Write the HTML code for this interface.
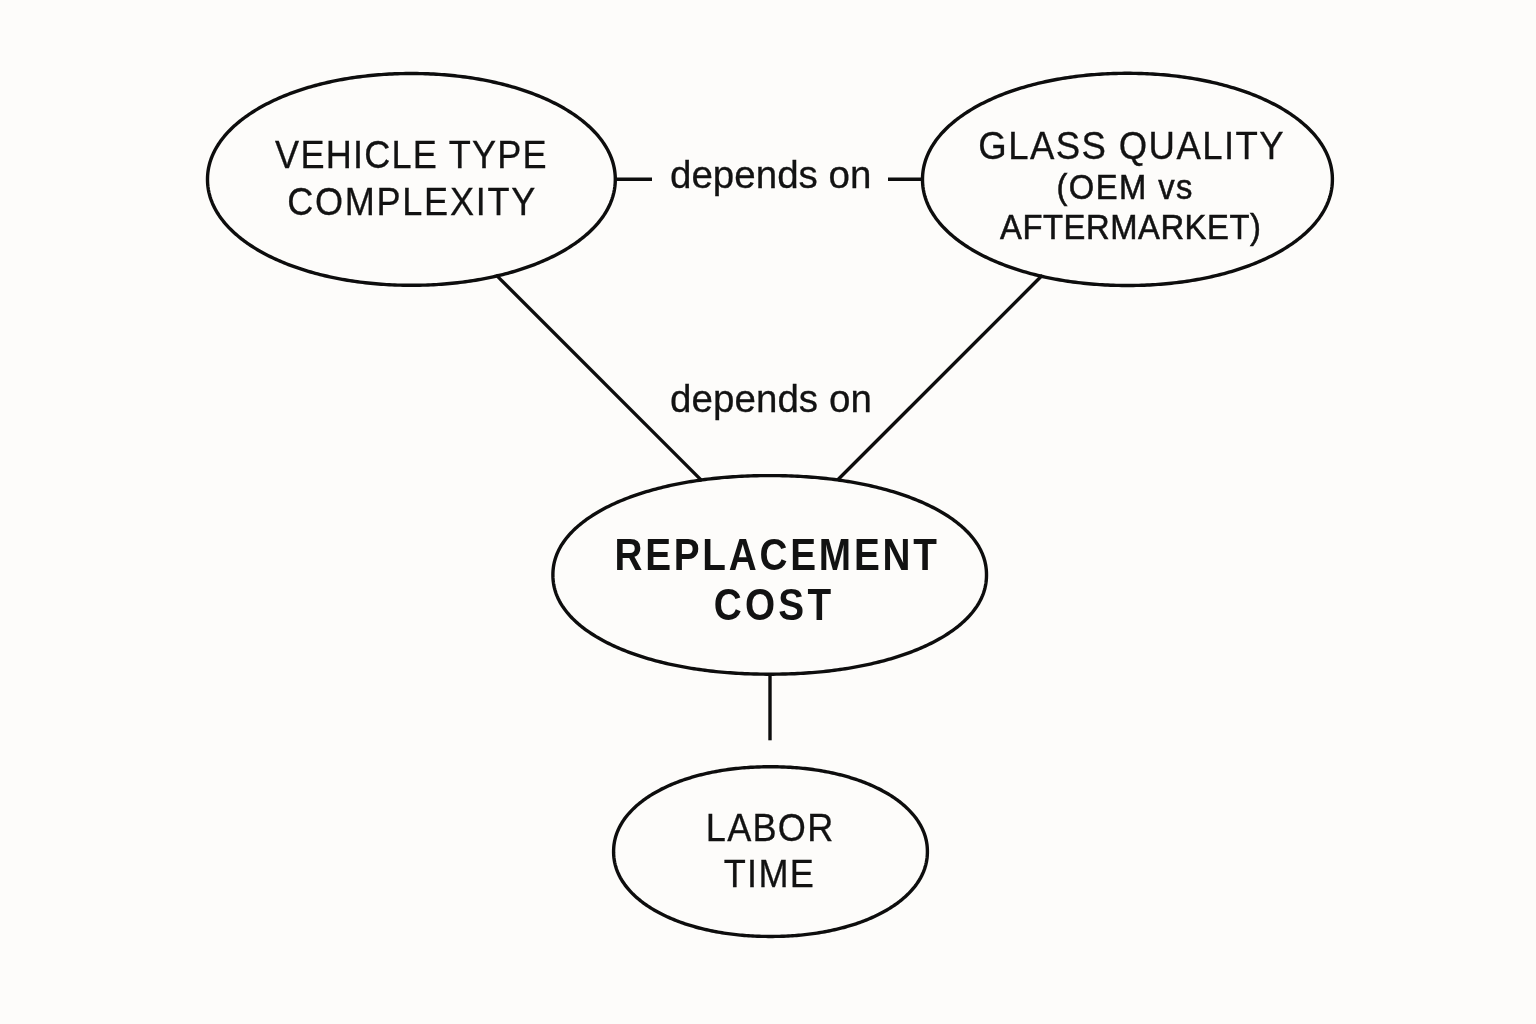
<!DOCTYPE html>
<html><head><meta charset="utf-8"><title>Replacement cost diagram</title><style>
html,body{margin:0;padding:0;background:#fdfcfa;width:1536px;height:1024px;overflow:hidden}
svg{display:block;will-change:transform}
text{font-family:"Liberation Sans",sans-serif;fill:#121212;stroke:#121212}
</style></head><body>
<svg width="1536" height="1024" viewBox="0 0 1536 1024">
<rect width="1536" height="1024" fill="#fdfcfa"/>
<g fill="none" stroke="#0d0d0d" stroke-width="3.4">
<path d="M615.30 179.40 L615.28 180.88 L615.23 182.34 L615.15 183.78 L615.02 185.21 L614.87 186.63 L614.68 188.05 L614.46 189.46 L614.20 190.87 L613.91 192.27 L613.58 193.67 L613.22 195.07 L612.83 196.46 L612.40 197.84 L611.94 199.22 L611.44 200.60 L610.91 201.97 L610.35 203.33 L609.75 204.69 L609.12 206.05 L608.46 207.40 L607.76 208.74 L607.03 210.08 L606.27 211.41 L605.47 212.74 L604.64 214.05 L603.78 215.37 L602.89 216.67 L601.96 217.97 L601.00 219.26 L600.01 220.54 L598.99 221.82 L597.94 223.09 L596.85 224.35 L595.73 225.60 L594.59 226.84 L593.41 228.08 L592.20 229.31 L590.96 230.52 L589.68 231.73 L588.38 232.93 L587.05 234.12 L585.69 235.30 L584.30 236.47 L582.88 237.63 L581.43 238.78 L579.95 239.92 L578.45 241.05 L576.91 242.17 L575.35 243.28 L573.76 244.37 L572.14 245.46 L570.49 246.53 L568.82 247.60 L567.12 248.65 L565.39 249.68 L563.64 250.71 L561.86 251.72 L560.05 252.73 L558.22 253.72 L556.37 254.69 L554.49 255.66 L552.58 256.61 L550.65 257.54 L548.70 258.47 L546.73 259.38 L544.73 260.28 L542.70 261.16 L540.66 262.03 L538.59 262.88 L536.50 263.72 L534.39 264.55 L532.26 265.36 L530.10 266.16 L527.93 266.94 L525.73 267.71 L523.52 268.46 L521.29 269.20 L519.03 269.92 L516.76 270.63 L514.47 271.32 L512.16 272.00 L509.83 272.66 L507.49 273.30 L505.13 273.93 L502.75 274.54 L500.35 275.14 L497.94 275.72 L495.52 276.28 L493.08 276.83 L490.62 277.36 L488.15 277.88 L485.66 278.37 L483.16 278.85 L480.65 279.32 L478.12 279.77 L475.58 280.20 L473.03 280.61 L470.47 281.01 L467.90 281.39 L465.31 281.75 L462.71 282.09 L460.10 282.42 L457.48 282.73 L454.85 283.02 L452.22 283.30 L449.57 283.55 L446.91 283.79 L444.24 284.02 L441.57 284.22 L438.88 284.41 L436.19 284.58 L433.48 284.73 L430.77 284.86 L428.05 284.98 L425.32 285.08 L422.58 285.16 L419.82 285.22 L417.05 285.26 L414.26 285.29 L411.40 285.30 L408.54 285.29 L405.75 285.26 L402.98 285.22 L400.22 285.16 L397.48 285.08 L394.75 284.98 L392.03 284.86 L389.32 284.73 L386.61 284.58 L383.92 284.41 L381.23 284.22 L378.56 284.02 L375.89 283.79 L373.23 283.55 L370.58 283.30 L367.95 283.02 L365.32 282.73 L362.70 282.42 L360.09 282.09 L357.49 281.75 L354.90 281.39 L352.33 281.01 L349.77 280.61 L347.22 280.20 L344.68 279.77 L342.15 279.32 L339.64 278.85 L337.14 278.37 L334.65 277.88 L332.18 277.36 L329.72 276.83 L327.28 276.28 L324.86 275.72 L322.45 275.14 L320.05 274.54 L317.67 273.93 L315.31 273.30 L312.97 272.66 L310.64 272.00 L308.33 271.32 L306.04 270.63 L303.77 269.92 L301.51 269.20 L299.28 268.46 L297.07 267.71 L294.87 266.94 L292.70 266.16 L290.54 265.36 L288.41 264.55 L286.30 263.72 L284.21 262.88 L282.14 262.03 L280.10 261.16 L278.07 260.28 L276.07 259.38 L274.10 258.47 L272.15 257.54 L270.22 256.61 L268.31 255.66 L266.43 254.69 L264.58 253.72 L262.75 252.73 L260.94 251.72 L259.16 250.71 L257.41 249.68 L255.68 248.65 L253.98 247.60 L252.31 246.53 L250.66 245.46 L249.04 244.37 L247.45 243.28 L245.89 242.17 L244.35 241.05 L242.85 239.92 L241.37 238.78 L239.92 237.63 L238.50 236.47 L237.11 235.30 L235.75 234.12 L234.42 232.93 L233.12 231.73 L231.84 230.52 L230.60 229.31 L229.39 228.08 L228.21 226.84 L227.07 225.60 L225.95 224.35 L224.86 223.09 L223.81 221.82 L222.79 220.54 L221.80 219.26 L220.84 217.97 L219.91 216.67 L219.02 215.37 L218.16 214.05 L217.33 212.74 L216.53 211.41 L215.77 210.08 L215.04 208.74 L214.34 207.40 L213.68 206.05 L213.05 204.69 L212.45 203.33 L211.89 201.97 L211.36 200.60 L210.86 199.22 L210.40 197.84 L209.97 196.46 L209.58 195.07 L209.22 193.67 L208.89 192.27 L208.60 190.87 L208.34 189.46 L208.12 188.05 L207.93 186.63 L207.78 185.21 L207.65 183.78 L207.57 182.34 L207.52 180.88 L207.50 179.40 L207.52 177.92 L207.57 176.46 L207.65 175.02 L207.78 173.59 L207.93 172.17 L208.12 170.75 L208.34 169.34 L208.60 167.93 L208.89 166.53 L209.22 165.13 L209.58 163.73 L209.97 162.34 L210.40 160.96 L210.86 159.58 L211.36 158.20 L211.89 156.83 L212.45 155.47 L213.05 154.11 L213.68 152.75 L214.34 151.40 L215.04 150.06 L215.77 148.72 L216.53 147.39 L217.33 146.06 L218.16 144.75 L219.02 143.43 L219.91 142.13 L220.84 140.83 L221.80 139.54 L222.79 138.26 L223.81 136.98 L224.86 135.71 L225.95 134.45 L227.07 133.20 L228.21 131.96 L229.39 130.72 L230.60 129.49 L231.84 128.28 L233.12 127.07 L234.42 125.87 L235.75 124.68 L237.11 123.50 L238.50 122.33 L239.92 121.17 L241.37 120.02 L242.85 118.88 L244.35 117.75 L245.89 116.63 L247.45 115.52 L249.04 114.43 L250.66 113.34 L252.31 112.27 L253.98 111.20 L255.68 110.15 L257.41 109.12 L259.16 108.09 L260.94 107.08 L262.75 106.07 L264.58 105.08 L266.43 104.11 L268.31 103.14 L270.22 102.19 L272.15 101.26 L274.10 100.33 L276.07 99.42 L278.07 98.52 L280.10 97.64 L282.14 96.77 L284.21 95.92 L286.30 95.08 L288.41 94.25 L290.54 93.44 L292.70 92.64 L294.87 91.86 L297.07 91.09 L299.28 90.34 L301.51 89.60 L303.77 88.88 L306.04 88.17 L308.33 87.48 L310.64 86.80 L312.97 86.14 L315.31 85.50 L317.67 84.87 L320.05 84.26 L322.45 83.66 L324.86 83.08 L327.28 82.52 L329.72 81.97 L332.18 81.44 L334.65 80.92 L337.14 80.43 L339.64 79.95 L342.15 79.48 L344.68 79.03 L347.22 78.60 L349.77 78.19 L352.33 77.79 L354.90 77.41 L357.49 77.05 L360.09 76.71 L362.70 76.38 L365.32 76.07 L367.95 75.78 L370.58 75.50 L373.23 75.25 L375.89 75.01 L378.56 74.78 L381.23 74.58 L383.92 74.39 L386.61 74.22 L389.32 74.07 L392.03 73.94 L394.75 73.82 L397.48 73.72 L400.22 73.64 L402.98 73.58 L405.75 73.54 L408.54 73.51 L411.40 73.50 L414.26 73.51 L417.05 73.54 L419.82 73.58 L422.58 73.64 L425.32 73.72 L428.05 73.82 L430.77 73.94 L433.48 74.07 L436.19 74.22 L438.88 74.39 L441.57 74.58 L444.24 74.78 L446.91 75.01 L449.57 75.25 L452.22 75.50 L454.85 75.78 L457.48 76.07 L460.10 76.38 L462.71 76.71 L465.31 77.05 L467.90 77.41 L470.47 77.79 L473.03 78.19 L475.58 78.60 L478.12 79.03 L480.65 79.48 L483.16 79.95 L485.66 80.43 L488.15 80.92 L490.62 81.44 L493.08 81.97 L495.52 82.52 L497.94 83.08 L500.35 83.66 L502.75 84.26 L505.13 84.87 L507.49 85.50 L509.83 86.14 L512.16 86.80 L514.47 87.48 L516.76 88.17 L519.03 88.88 L521.29 89.60 L523.52 90.34 L525.73 91.09 L527.93 91.86 L530.10 92.64 L532.26 93.44 L534.39 94.25 L536.50 95.08 L538.59 95.92 L540.66 96.77 L542.70 97.64 L544.73 98.52 L546.73 99.42 L548.70 100.33 L550.65 101.26 L552.58 102.19 L554.49 103.14 L556.37 104.11 L558.22 105.08 L560.05 106.07 L561.86 107.08 L563.64 108.09 L565.39 109.12 L567.12 110.15 L568.82 111.20 L570.49 112.27 L572.14 113.34 L573.76 114.43 L575.35 115.52 L576.91 116.63 L578.45 117.75 L579.95 118.88 L581.43 120.02 L582.88 121.17 L584.30 122.33 L585.69 123.50 L587.05 124.68 L588.38 125.87 L589.68 127.07 L590.96 128.28 L592.20 129.49 L593.41 130.72 L594.59 131.96 L595.73 133.20 L596.85 134.45 L597.94 135.71 L598.99 136.98 L600.01 138.26 L601.00 139.54 L601.96 140.83 L602.89 142.13 L603.78 143.43 L604.64 144.75 L605.47 146.06 L606.27 147.39 L607.03 148.72 L607.76 150.06 L608.46 151.40 L609.12 152.75 L609.75 154.11 L610.35 155.47 L610.91 156.83 L611.44 158.20 L611.94 159.58 L612.40 160.96 L612.83 162.34 L613.22 163.73 L613.58 165.13 L613.91 166.53 L614.20 167.93 L614.46 169.34 L614.68 170.75 L614.87 172.17 L615.02 173.59 L615.15 175.02 L615.23 176.46 L615.28 177.92Z"/>
<path d="M1332.40 179.40 L1332.38 180.91 L1332.33 182.38 L1332.25 183.84 L1332.12 185.28 L1331.97 186.72 L1331.78 188.15 L1331.56 189.57 L1331.30 190.99 L1331.01 192.41 L1330.68 193.81 L1330.32 195.22 L1329.93 196.61 L1329.50 198.00 L1329.03 199.39 L1328.54 200.77 L1328.01 202.15 L1327.44 203.52 L1326.85 204.89 L1326.22 206.24 L1325.55 207.60 L1324.85 208.95 L1324.12 210.29 L1323.36 211.62 L1322.56 212.95 L1321.73 214.27 L1320.87 215.59 L1319.97 216.89 L1319.05 218.20 L1318.09 219.49 L1317.09 220.77 L1316.07 222.05 L1315.01 223.32 L1313.93 224.58 L1312.81 225.84 L1311.66 227.08 L1310.48 228.32 L1309.26 229.55 L1308.02 230.77 L1306.75 231.98 L1305.44 233.18 L1304.11 234.37 L1302.75 235.55 L1301.35 236.72 L1299.93 237.88 L1298.48 239.03 L1297.00 240.17 L1295.49 241.30 L1293.95 242.42 L1292.38 243.52 L1290.79 244.62 L1289.17 245.71 L1287.52 246.78 L1285.84 247.84 L1284.13 248.89 L1282.40 249.93 L1280.65 250.96 L1278.86 251.97 L1277.05 252.97 L1275.22 253.96 L1273.36 254.94 L1271.47 255.90 L1269.57 256.85 L1267.63 257.78 L1265.67 258.71 L1263.69 259.62 L1261.69 260.51 L1259.66 261.40 L1257.61 262.26 L1255.53 263.12 L1253.44 263.96 L1251.32 264.78 L1249.18 265.59 L1247.02 266.39 L1244.84 267.17 L1242.63 267.94 L1240.41 268.69 L1238.17 269.43 L1235.91 270.15 L1233.63 270.85 L1231.33 271.54 L1229.01 272.22 L1226.67 272.88 L1224.32 273.52 L1221.95 274.15 L1219.56 274.76 L1217.15 275.36 L1214.73 275.94 L1212.29 276.50 L1209.84 277.05 L1207.37 277.58 L1204.89 278.09 L1202.39 278.59 L1199.88 279.07 L1197.35 279.53 L1194.81 279.98 L1192.26 280.41 L1189.69 280.82 L1187.11 281.21 L1184.52 281.59 L1181.92 281.95 L1179.31 282.30 L1176.68 282.63 L1174.04 282.93 L1171.39 283.23 L1168.74 283.50 L1166.07 283.76 L1163.39 284.00 L1160.70 284.22 L1158.00 284.42 L1155.29 284.61 L1152.57 284.78 L1149.84 284.93 L1147.10 285.06 L1144.35 285.18 L1141.59 285.28 L1138.82 285.36 L1136.02 285.42 L1133.21 285.46 L1130.37 285.49 L1127.45 285.50 L1124.53 285.49 L1121.69 285.46 L1118.88 285.42 L1116.08 285.36 L1113.31 285.28 L1110.55 285.18 L1107.80 285.06 L1105.06 284.93 L1102.33 284.78 L1099.61 284.61 L1096.90 284.42 L1094.20 284.22 L1091.51 284.00 L1088.83 283.76 L1086.16 283.50 L1083.51 283.23 L1080.86 282.93 L1078.22 282.63 L1075.59 282.30 L1072.98 281.95 L1070.38 281.59 L1067.79 281.21 L1065.21 280.82 L1062.64 280.41 L1060.09 279.98 L1057.55 279.53 L1055.02 279.07 L1052.51 278.59 L1050.01 278.09 L1047.53 277.58 L1045.06 277.05 L1042.61 276.50 L1040.17 275.94 L1037.75 275.36 L1035.34 274.76 L1032.95 274.15 L1030.58 273.52 L1028.23 272.88 L1025.89 272.22 L1023.57 271.54 L1021.27 270.85 L1018.99 270.15 L1016.73 269.43 L1014.49 268.69 L1012.27 267.94 L1010.06 267.17 L1007.88 266.39 L1005.72 265.59 L1003.58 264.78 L1001.46 263.96 L999.37 263.12 L997.29 262.26 L995.24 261.40 L993.21 260.51 L991.21 259.62 L989.23 258.71 L987.27 257.78 L985.33 256.85 L983.43 255.90 L981.54 254.94 L979.68 253.96 L977.85 252.97 L976.04 251.97 L974.25 250.96 L972.50 249.93 L970.77 248.89 L969.06 247.84 L967.38 246.78 L965.73 245.71 L964.11 244.62 L962.52 243.52 L960.95 242.42 L959.41 241.30 L957.90 240.17 L956.42 239.03 L954.97 237.88 L953.55 236.72 L952.15 235.55 L950.79 234.37 L949.46 233.18 L948.15 231.98 L946.88 230.77 L945.64 229.55 L944.42 228.32 L943.24 227.08 L942.09 225.84 L940.97 224.58 L939.89 223.32 L938.83 222.05 L937.81 220.77 L936.81 219.49 L935.85 218.20 L934.93 216.89 L934.03 215.59 L933.17 214.27 L932.34 212.95 L931.54 211.62 L930.78 210.29 L930.05 208.95 L929.35 207.60 L928.68 206.24 L928.05 204.89 L927.46 203.52 L926.89 202.15 L926.36 200.77 L925.87 199.39 L925.40 198.00 L924.97 196.61 L924.58 195.22 L924.22 193.81 L923.89 192.41 L923.60 190.99 L923.34 189.57 L923.12 188.15 L922.93 186.72 L922.78 185.28 L922.65 183.84 L922.57 182.38 L922.52 180.91 L922.50 179.40 L922.52 177.89 L922.57 176.42 L922.65 174.96 L922.78 173.52 L922.93 172.08 L923.12 170.65 L923.34 169.23 L923.60 167.81 L923.89 166.39 L924.22 164.99 L924.58 163.58 L924.97 162.19 L925.40 160.80 L925.87 159.41 L926.36 158.03 L926.89 156.65 L927.46 155.28 L928.05 153.91 L928.68 152.56 L929.35 151.20 L930.05 149.85 L930.78 148.51 L931.54 147.18 L932.34 145.85 L933.17 144.53 L934.03 143.21 L934.93 141.91 L935.85 140.60 L936.81 139.31 L937.81 138.03 L938.83 136.75 L939.89 135.48 L940.97 134.22 L942.09 132.96 L943.24 131.72 L944.42 130.48 L945.64 129.25 L946.88 128.03 L948.15 126.82 L949.46 125.62 L950.79 124.43 L952.15 123.25 L953.55 122.08 L954.97 120.92 L956.42 119.77 L957.90 118.63 L959.41 117.50 L960.95 116.38 L962.52 115.28 L964.11 114.18 L965.73 113.09 L967.38 112.02 L969.06 110.96 L970.77 109.91 L972.50 108.87 L974.25 107.84 L976.04 106.83 L977.85 105.83 L979.68 104.84 L981.54 103.86 L983.43 102.90 L985.33 101.95 L987.27 101.02 L989.23 100.09 L991.21 99.18 L993.21 98.29 L995.24 97.40 L997.29 96.54 L999.37 95.68 L1001.46 94.84 L1003.58 94.02 L1005.72 93.21 L1007.88 92.41 L1010.06 91.63 L1012.27 90.86 L1014.49 90.11 L1016.73 89.37 L1018.99 88.65 L1021.27 87.95 L1023.57 87.26 L1025.89 86.58 L1028.23 85.92 L1030.58 85.28 L1032.95 84.65 L1035.34 84.04 L1037.75 83.44 L1040.17 82.86 L1042.61 82.30 L1045.06 81.75 L1047.53 81.22 L1050.01 80.71 L1052.51 80.21 L1055.02 79.73 L1057.55 79.27 L1060.09 78.82 L1062.64 78.39 L1065.21 77.98 L1067.79 77.59 L1070.38 77.21 L1072.98 76.85 L1075.59 76.50 L1078.22 76.17 L1080.86 75.87 L1083.51 75.57 L1086.16 75.30 L1088.83 75.04 L1091.51 74.80 L1094.20 74.58 L1096.90 74.38 L1099.61 74.19 L1102.33 74.02 L1105.06 73.87 L1107.80 73.74 L1110.55 73.62 L1113.31 73.52 L1116.08 73.44 L1118.88 73.38 L1121.69 73.34 L1124.53 73.31 L1127.45 73.30 L1130.37 73.31 L1133.21 73.34 L1136.02 73.38 L1138.82 73.44 L1141.59 73.52 L1144.35 73.62 L1147.10 73.74 L1149.84 73.87 L1152.57 74.02 L1155.29 74.19 L1158.00 74.38 L1160.70 74.58 L1163.39 74.80 L1166.07 75.04 L1168.74 75.30 L1171.39 75.57 L1174.04 75.87 L1176.68 76.17 L1179.31 76.50 L1181.92 76.85 L1184.52 77.21 L1187.11 77.59 L1189.69 77.98 L1192.26 78.39 L1194.81 78.82 L1197.35 79.27 L1199.88 79.73 L1202.39 80.21 L1204.89 80.71 L1207.37 81.22 L1209.84 81.75 L1212.29 82.30 L1214.73 82.86 L1217.15 83.44 L1219.56 84.04 L1221.95 84.65 L1224.32 85.28 L1226.67 85.92 L1229.01 86.58 L1231.33 87.26 L1233.63 87.95 L1235.91 88.65 L1238.17 89.37 L1240.41 90.11 L1242.63 90.86 L1244.84 91.63 L1247.02 92.41 L1249.18 93.21 L1251.32 94.02 L1253.44 94.84 L1255.53 95.68 L1257.61 96.54 L1259.66 97.40 L1261.69 98.29 L1263.69 99.18 L1265.67 100.09 L1267.63 101.02 L1269.57 101.95 L1271.47 102.90 L1273.36 103.86 L1275.22 104.84 L1277.05 105.83 L1278.86 106.83 L1280.65 107.84 L1282.40 108.87 L1284.13 109.91 L1285.84 110.96 L1287.52 112.02 L1289.17 113.09 L1290.79 114.18 L1292.38 115.28 L1293.95 116.38 L1295.49 117.50 L1297.00 118.63 L1298.48 119.77 L1299.93 120.92 L1301.35 122.08 L1302.75 123.25 L1304.11 124.43 L1305.44 125.62 L1306.75 126.82 L1308.02 128.03 L1309.26 129.25 L1310.48 130.48 L1311.66 131.72 L1312.81 132.96 L1313.93 134.22 L1315.01 135.48 L1316.07 136.75 L1317.09 138.03 L1318.09 139.31 L1319.05 140.60 L1319.97 141.91 L1320.87 143.21 L1321.73 144.53 L1322.56 145.85 L1323.36 147.18 L1324.12 148.51 L1324.85 149.85 L1325.55 151.20 L1326.22 152.56 L1326.85 153.91 L1327.44 155.28 L1328.01 156.65 L1328.54 158.03 L1329.03 159.41 L1329.50 160.80 L1329.93 162.19 L1330.32 163.58 L1330.68 164.99 L1331.01 166.39 L1331.30 167.81 L1331.56 169.23 L1331.78 170.65 L1331.97 172.08 L1332.12 173.52 L1332.25 174.96 L1332.33 176.42 L1332.38 177.89Z"/>
<path d="M986.50 574.90 L986.48 576.45 L986.43 577.92 L986.34 579.35 L986.21 580.76 L986.05 582.16 L985.86 583.54 L985.63 584.92 L985.36 586.28 L985.06 587.64 L984.72 588.98 L984.35 590.32 L983.94 591.65 L983.50 592.98 L983.02 594.30 L982.50 595.61 L981.95 596.91 L981.37 598.21 L980.75 599.50 L980.10 600.78 L979.41 602.06 L978.69 603.33 L977.93 604.59 L977.14 605.84 L976.31 607.09 L975.45 608.33 L974.56 609.56 L973.63 610.79 L972.67 612.01 L971.67 613.22 L970.64 614.42 L969.58 615.61 L968.49 616.80 L967.36 617.98 L966.20 619.14 L965.01 620.30 L963.78 621.46 L962.52 622.60 L961.23 623.73 L959.91 624.86 L958.56 625.97 L957.17 627.08 L955.76 628.18 L954.31 629.26 L952.83 630.34 L951.32 631.41 L949.79 632.46 L948.22 633.51 L946.62 634.55 L944.99 635.57 L943.33 636.59 L941.64 637.59 L939.93 638.58 L938.18 639.56 L936.41 640.54 L934.61 641.49 L932.78 642.44 L930.92 643.38 L929.03 644.30 L927.12 645.21 L925.18 646.11 L923.22 647.00 L921.22 647.88 L919.21 648.74 L917.16 649.59 L915.09 650.43 L913.00 651.26 L910.88 652.07 L908.74 652.87 L906.57 653.65 L904.38 654.43 L902.16 655.19 L899.92 655.93 L897.66 656.66 L895.38 657.38 L893.07 658.09 L890.74 658.78 L888.39 659.46 L886.02 660.12 L883.62 660.77 L881.21 661.40 L878.77 662.02 L876.32 662.63 L873.84 663.22 L871.35 663.79 L868.83 664.36 L866.30 664.90 L863.75 665.43 L861.17 665.95 L858.59 666.45 L855.98 666.94 L853.35 667.41 L850.71 667.86 L848.06 668.31 L845.38 668.73 L842.69 669.14 L839.98 669.53 L837.26 669.91 L834.52 670.27 L831.76 670.62 L828.99 670.95 L826.20 671.27 L823.40 671.57 L820.59 671.85 L817.76 672.12 L814.91 672.37 L812.05 672.60 L809.17 672.82 L806.28 673.03 L803.37 673.21 L800.45 673.38 L797.51 673.54 L794.55 673.68 L791.57 673.80 L788.57 673.91 L785.55 674.00 L782.50 674.07 L779.41 674.13 L776.28 674.17 L773.09 674.19 L769.70 674.20 L766.31 674.19 L763.12 674.17 L759.99 674.13 L756.90 674.07 L753.85 674.00 L750.83 673.91 L747.83 673.80 L744.85 673.68 L741.89 673.54 L738.95 673.38 L736.03 673.21 L733.12 673.03 L730.23 672.82 L727.35 672.60 L724.49 672.37 L721.64 672.12 L718.81 671.85 L716.00 671.57 L713.20 671.27 L710.41 670.95 L707.64 670.62 L704.88 670.27 L702.14 669.91 L699.42 669.53 L696.71 669.14 L694.02 668.73 L691.34 668.31 L688.69 667.86 L686.05 667.41 L683.42 666.94 L680.81 666.45 L678.23 665.95 L675.65 665.43 L673.10 664.90 L670.57 664.36 L668.05 663.79 L665.56 663.22 L663.08 662.63 L660.63 662.02 L658.19 661.40 L655.78 660.77 L653.38 660.12 L651.01 659.46 L648.66 658.78 L646.33 658.09 L644.02 657.38 L641.74 656.66 L639.48 655.93 L637.24 655.19 L635.02 654.43 L632.83 653.65 L630.66 652.87 L628.52 652.07 L626.40 651.26 L624.31 650.43 L622.24 649.59 L620.19 648.74 L618.18 647.88 L616.18 647.00 L614.22 646.11 L612.28 645.21 L610.37 644.30 L608.48 643.38 L606.62 642.44 L604.79 641.49 L602.99 640.54 L601.22 639.56 L599.47 638.58 L597.76 637.59 L596.07 636.59 L594.41 635.57 L592.78 634.55 L591.18 633.51 L589.61 632.46 L588.08 631.41 L586.57 630.34 L585.09 629.26 L583.64 628.18 L582.23 627.08 L580.84 625.97 L579.49 624.86 L578.17 623.73 L576.88 622.60 L575.62 621.46 L574.39 620.30 L573.20 619.14 L572.04 617.98 L570.91 616.80 L569.82 615.61 L568.76 614.42 L567.73 613.22 L566.73 612.01 L565.77 610.79 L564.84 609.56 L563.95 608.33 L563.09 607.09 L562.26 605.84 L561.47 604.59 L560.71 603.33 L559.99 602.06 L559.30 600.78 L558.65 599.50 L558.03 598.21 L557.45 596.91 L556.90 595.61 L556.38 594.30 L555.90 592.98 L555.46 591.65 L555.05 590.32 L554.68 588.98 L554.34 587.64 L554.04 586.28 L553.77 584.92 L553.54 583.54 L553.35 582.16 L553.19 580.76 L553.06 579.35 L552.97 577.92 L552.92 576.45 L552.90 574.90 L552.92 573.35 L552.97 571.88 L553.06 570.45 L553.19 569.04 L553.35 567.64 L553.54 566.26 L553.77 564.88 L554.04 563.52 L554.34 562.16 L554.68 560.82 L555.05 559.48 L555.46 558.15 L555.90 556.82 L556.38 555.50 L556.90 554.19 L557.45 552.89 L558.03 551.59 L558.65 550.30 L559.30 549.02 L559.99 547.74 L560.71 546.47 L561.47 545.21 L562.26 543.96 L563.09 542.71 L563.95 541.47 L564.84 540.24 L565.77 539.01 L566.73 537.79 L567.73 536.58 L568.76 535.38 L569.82 534.19 L570.91 533.00 L572.04 531.82 L573.20 530.66 L574.39 529.50 L575.62 528.34 L576.88 527.20 L578.17 526.07 L579.49 524.94 L580.84 523.83 L582.23 522.72 L583.64 521.62 L585.09 520.54 L586.57 519.46 L588.08 518.39 L589.61 517.34 L591.18 516.29 L592.78 515.25 L594.41 514.23 L596.07 513.21 L597.76 512.21 L599.47 511.22 L601.22 510.24 L602.99 509.26 L604.79 508.31 L606.62 507.36 L608.48 506.42 L610.37 505.50 L612.28 504.59 L614.22 503.69 L616.18 502.80 L618.18 501.92 L620.19 501.06 L622.24 500.21 L624.31 499.37 L626.40 498.54 L628.52 497.73 L630.66 496.93 L632.83 496.15 L635.02 495.37 L637.24 494.61 L639.48 493.87 L641.74 493.14 L644.02 492.42 L646.33 491.71 L648.66 491.02 L651.01 490.34 L653.38 489.68 L655.78 489.03 L658.19 488.40 L660.63 487.78 L663.08 487.17 L665.56 486.58 L668.05 486.01 L670.57 485.44 L673.10 484.90 L675.65 484.37 L678.23 483.85 L680.81 483.35 L683.42 482.86 L686.05 482.39 L688.69 481.94 L691.34 481.49 L694.02 481.07 L696.71 480.66 L699.42 480.27 L702.14 479.89 L704.88 479.53 L707.64 479.18 L710.41 478.85 L713.20 478.53 L716.00 478.23 L718.81 477.95 L721.64 477.68 L724.49 477.43 L727.35 477.20 L730.23 476.98 L733.12 476.77 L736.03 476.59 L738.95 476.42 L741.89 476.26 L744.85 476.12 L747.83 476.00 L750.83 475.89 L753.85 475.80 L756.90 475.73 L759.99 475.67 L763.12 475.63 L766.31 475.61 L769.70 475.60 L773.09 475.61 L776.28 475.63 L779.41 475.67 L782.50 475.73 L785.55 475.80 L788.57 475.89 L791.57 476.00 L794.55 476.12 L797.51 476.26 L800.45 476.42 L803.37 476.59 L806.28 476.77 L809.17 476.98 L812.05 477.20 L814.91 477.43 L817.76 477.68 L820.59 477.95 L823.40 478.23 L826.20 478.53 L828.99 478.85 L831.76 479.18 L834.52 479.53 L837.26 479.89 L839.98 480.27 L842.69 480.66 L845.38 481.07 L848.06 481.49 L850.71 481.94 L853.35 482.39 L855.98 482.86 L858.59 483.35 L861.17 483.85 L863.75 484.37 L866.30 484.90 L868.83 485.44 L871.35 486.01 L873.84 486.58 L876.32 487.17 L878.77 487.78 L881.21 488.40 L883.62 489.03 L886.02 489.68 L888.39 490.34 L890.74 491.02 L893.07 491.71 L895.38 492.42 L897.66 493.14 L899.92 493.87 L902.16 494.61 L904.38 495.37 L906.57 496.15 L908.74 496.93 L910.88 497.73 L913.00 498.54 L915.09 499.37 L917.16 500.21 L919.21 501.06 L921.22 501.92 L923.22 502.80 L925.18 503.69 L927.12 504.59 L929.03 505.50 L930.92 506.42 L932.78 507.36 L934.61 508.31 L936.41 509.26 L938.18 510.24 L939.93 511.22 L941.64 512.21 L943.33 513.21 L944.99 514.23 L946.62 515.25 L948.22 516.29 L949.79 517.34 L951.32 518.39 L952.83 519.46 L954.31 520.54 L955.76 521.62 L957.17 522.72 L958.56 523.83 L959.91 524.94 L961.23 526.07 L962.52 527.20 L963.78 528.34 L965.01 529.50 L966.20 530.66 L967.36 531.82 L968.49 533.00 L969.58 534.19 L970.64 535.38 L971.67 536.58 L972.67 537.79 L973.63 539.01 L974.56 540.24 L975.45 541.47 L976.31 542.71 L977.14 543.96 L977.93 545.21 L978.69 546.47 L979.41 547.74 L980.10 549.02 L980.75 550.30 L981.37 551.59 L981.95 552.89 L982.50 554.19 L983.02 555.50 L983.50 556.82 L983.94 558.15 L984.35 559.48 L984.72 560.82 L985.06 562.16 L985.36 563.52 L985.63 564.88 L985.86 566.26 L986.05 567.64 L986.21 569.04 L986.34 570.45 L986.43 571.88 L986.48 573.35Z"/>
<path d="M927.40 851.60 L927.39 852.89 L927.35 854.11 L927.28 855.32 L927.19 856.51 L927.08 857.69 L926.93 858.86 L926.76 860.02 L926.57 861.17 L926.35 862.32 L926.10 863.46 L925.83 864.60 L925.53 865.73 L925.21 866.86 L924.86 867.98 L924.49 869.09 L924.09 870.20 L923.66 871.31 L923.21 872.41 L922.73 873.50 L922.23 874.59 L921.70 875.67 L921.15 876.75 L920.58 877.82 L919.97 878.88 L919.35 879.94 L918.70 880.99 L918.02 882.04 L917.32 883.08 L916.59 884.12 L915.85 885.14 L915.07 886.16 L914.27 887.18 L913.45 888.18 L912.61 889.18 L911.74 890.18 L910.85 891.16 L909.93 892.14 L908.99 893.11 L908.03 894.08 L907.04 895.03 L906.03 895.98 L905.00 896.92 L903.95 897.85 L902.87 898.77 L901.77 899.69 L900.65 900.59 L899.51 901.49 L898.35 902.38 L897.16 903.26 L895.96 904.13 L894.73 904.99 L893.48 905.84 L892.21 906.68 L890.92 907.52 L889.61 908.34 L888.28 909.15 L886.92 909.96 L885.55 910.75 L884.16 911.53 L882.75 912.31 L881.32 913.07 L879.88 913.82 L878.41 914.56 L876.92 915.29 L875.42 916.01 L873.90 916.72 L872.36 917.42 L870.80 918.11 L869.22 918.78 L867.63 919.45 L866.02 920.10 L864.40 920.74 L862.75 921.37 L861.09 921.99 L859.42 922.59 L857.73 923.19 L856.02 923.77 L854.30 924.34 L852.56 924.90 L850.81 925.44 L849.04 925.97 L847.26 926.49 L845.47 927.00 L843.66 927.50 L841.84 927.98 L840.00 928.45 L838.15 928.91 L836.29 929.35 L834.41 929.78 L832.53 930.20 L830.63 930.61 L828.71 931.00 L826.79 931.38 L824.85 931.74 L822.91 932.10 L820.95 932.43 L818.98 932.76 L817.00 933.07 L815.01 933.37 L813.01 933.65 L811.00 933.93 L808.97 934.18 L806.94 934.43 L804.90 934.66 L802.85 934.87 L800.79 935.08 L798.72 935.27 L796.63 935.44 L794.54 935.60 L792.44 935.75 L790.33 935.88 L788.20 936.00 L786.07 936.11 L783.92 936.20 L781.75 936.27 L779.57 936.34 L777.37 936.39 L775.15 936.42 L772.88 936.44 L770.50 936.45 L768.12 936.44 L765.85 936.42 L763.63 936.39 L761.43 936.34 L759.25 936.27 L757.08 936.20 L754.93 936.11 L752.80 936.00 L750.67 935.88 L748.56 935.75 L746.46 935.60 L744.37 935.44 L742.28 935.27 L740.21 935.08 L738.15 934.87 L736.10 934.66 L734.06 934.43 L732.03 934.18 L730.00 933.93 L727.99 933.65 L725.99 933.37 L724.00 933.07 L722.02 932.76 L720.05 932.43 L718.09 932.10 L716.15 931.74 L714.21 931.38 L712.29 931.00 L710.37 930.61 L708.47 930.20 L706.59 929.78 L704.71 929.35 L702.85 928.91 L701.00 928.45 L699.16 927.98 L697.34 927.50 L695.53 927.00 L693.74 926.49 L691.96 925.97 L690.19 925.44 L688.44 924.90 L686.70 924.34 L684.98 923.77 L683.27 923.19 L681.58 922.59 L679.91 921.99 L678.25 921.37 L676.60 920.74 L674.98 920.10 L673.37 919.45 L671.78 918.78 L670.20 918.11 L668.64 917.42 L667.10 916.72 L665.58 916.01 L664.08 915.29 L662.59 914.56 L661.12 913.82 L659.68 913.07 L658.25 912.31 L656.84 911.53 L655.45 910.75 L654.08 909.96 L652.72 909.15 L651.39 908.34 L650.08 907.52 L648.79 906.68 L647.52 905.84 L646.27 904.99 L645.04 904.13 L643.84 903.26 L642.65 902.38 L641.49 901.49 L640.35 900.59 L639.23 899.69 L638.13 898.77 L637.05 897.85 L636.00 896.92 L634.97 895.98 L633.96 895.03 L632.97 894.08 L632.01 893.11 L631.07 892.14 L630.15 891.16 L629.26 890.18 L628.39 889.18 L627.55 888.18 L626.73 887.18 L625.93 886.16 L625.15 885.14 L624.41 884.12 L623.68 883.08 L622.98 882.04 L622.30 880.99 L621.65 879.94 L621.03 878.88 L620.42 877.82 L619.85 876.75 L619.30 875.67 L618.77 874.59 L618.27 873.50 L617.79 872.41 L617.34 871.31 L616.91 870.20 L616.51 869.09 L616.14 867.98 L615.79 866.86 L615.47 865.73 L615.17 864.60 L614.90 863.46 L614.65 862.32 L614.43 861.17 L614.24 860.02 L614.07 858.86 L613.92 857.69 L613.81 856.51 L613.72 855.32 L613.65 854.11 L613.61 852.89 L613.60 851.60 L613.61 850.31 L613.65 849.09 L613.72 847.88 L613.81 846.69 L613.92 845.51 L614.07 844.34 L614.24 843.18 L614.43 842.03 L614.65 840.88 L614.90 839.74 L615.17 838.60 L615.47 837.47 L615.79 836.34 L616.14 835.22 L616.51 834.11 L616.91 833.00 L617.34 831.89 L617.79 830.79 L618.27 829.70 L618.77 828.61 L619.30 827.53 L619.85 826.45 L620.42 825.38 L621.03 824.32 L621.65 823.26 L622.30 822.21 L622.98 821.16 L623.68 820.12 L624.41 819.08 L625.15 818.06 L625.93 817.04 L626.73 816.02 L627.55 815.02 L628.39 814.02 L629.26 813.02 L630.15 812.04 L631.07 811.06 L632.01 810.09 L632.97 809.12 L633.96 808.17 L634.97 807.22 L636.00 806.28 L637.05 805.35 L638.13 804.43 L639.23 803.51 L640.35 802.61 L641.49 801.71 L642.65 800.82 L643.84 799.94 L645.04 799.07 L646.27 798.21 L647.52 797.36 L648.79 796.52 L650.08 795.68 L651.39 794.86 L652.72 794.05 L654.08 793.24 L655.45 792.45 L656.84 791.67 L658.25 790.89 L659.68 790.13 L661.12 789.38 L662.59 788.64 L664.08 787.91 L665.58 787.19 L667.10 786.48 L668.64 785.78 L670.20 785.09 L671.78 784.42 L673.37 783.75 L674.98 783.10 L676.60 782.46 L678.25 781.83 L679.91 781.21 L681.58 780.61 L683.27 780.01 L684.98 779.43 L686.70 778.86 L688.44 778.30 L690.19 777.76 L691.96 777.23 L693.74 776.71 L695.53 776.20 L697.34 775.70 L699.16 775.22 L701.00 774.75 L702.85 774.29 L704.71 773.85 L706.59 773.42 L708.47 773.00 L710.37 772.59 L712.29 772.20 L714.21 771.82 L716.15 771.46 L718.09 771.10 L720.05 770.77 L722.02 770.44 L724.00 770.13 L725.99 769.83 L727.99 769.55 L730.00 769.27 L732.03 769.02 L734.06 768.77 L736.10 768.54 L738.15 768.33 L740.21 768.12 L742.28 767.93 L744.37 767.76 L746.46 767.60 L748.56 767.45 L750.67 767.32 L752.80 767.20 L754.93 767.09 L757.08 767.00 L759.25 766.93 L761.43 766.86 L763.63 766.81 L765.85 766.78 L768.12 766.76 L770.50 766.75 L772.88 766.76 L775.15 766.78 L777.37 766.81 L779.57 766.86 L781.75 766.93 L783.92 767.00 L786.07 767.09 L788.20 767.20 L790.33 767.32 L792.44 767.45 L794.54 767.60 L796.63 767.76 L798.72 767.93 L800.79 768.12 L802.85 768.33 L804.90 768.54 L806.94 768.77 L808.97 769.02 L811.00 769.27 L813.01 769.55 L815.01 769.83 L817.00 770.13 L818.98 770.44 L820.95 770.77 L822.91 771.10 L824.85 771.46 L826.79 771.82 L828.71 772.20 L830.63 772.59 L832.53 773.00 L834.41 773.42 L836.29 773.85 L838.15 774.29 L840.00 774.75 L841.84 775.22 L843.66 775.70 L845.47 776.20 L847.26 776.71 L849.04 777.23 L850.81 777.76 L852.56 778.30 L854.30 778.86 L856.02 779.43 L857.73 780.01 L859.42 780.61 L861.09 781.21 L862.75 781.83 L864.40 782.46 L866.02 783.10 L867.63 783.75 L869.22 784.42 L870.80 785.09 L872.36 785.78 L873.90 786.48 L875.42 787.19 L876.92 787.91 L878.41 788.64 L879.88 789.38 L881.32 790.13 L882.75 790.89 L884.16 791.67 L885.55 792.45 L886.92 793.24 L888.28 794.05 L889.61 794.86 L890.92 795.68 L892.21 796.52 L893.48 797.36 L894.73 798.21 L895.96 799.07 L897.16 799.94 L898.35 800.82 L899.51 801.71 L900.65 802.61 L901.77 803.51 L902.87 804.43 L903.95 805.35 L905.00 806.28 L906.03 807.22 L907.04 808.17 L908.03 809.12 L908.99 810.09 L909.93 811.06 L910.85 812.04 L911.74 813.02 L912.61 814.02 L913.45 815.02 L914.27 816.02 L915.07 817.04 L915.85 818.06 L916.59 819.08 L917.32 820.12 L918.02 821.16 L918.70 822.21 L919.35 823.26 L919.97 824.32 L920.58 825.38 L921.15 826.45 L921.70 827.53 L922.23 828.61 L922.73 829.70 L923.21 830.79 L923.66 831.89 L924.09 833.00 L924.49 834.11 L924.86 835.22 L925.21 836.34 L925.53 837.47 L925.83 838.60 L926.10 839.74 L926.35 840.88 L926.57 842.03 L926.76 843.18 L926.93 844.34 L927.08 845.51 L927.19 846.69 L927.28 847.88 L927.35 849.09 L927.39 850.31Z"/>
<line x1="614" y1="179.2" x2="652" y2="179.2"/>
<line x1="888" y1="179.2" x2="924" y2="179.2"/>
<line x1="496.0" y1="274.9" x2="702.0" y2="480.9"/>
<line x1="1042.3" y1="275.3" x2="837.3" y2="480.3"/>
<line x1="770" y1="673" x2="770" y2="740.3"/>
</g>
<g>
<text transform="translate(275.09,167.90) scale(0.95,1)" font-size="38" letter-spacing="1.287" stroke-width="0.3">VEHICLE TYPE</text>
<text transform="translate(287.13,214.50) scale(0.95,1)" font-size="38" letter-spacing="1.817" stroke-width="0.3">COMPLEXITY</text>
<text transform="translate(978.37,159.10) scale(0.95,1)" font-size="38.5" letter-spacing="1.464" stroke-width="0.3">GLASS QUALITY</text>
<text transform="translate(1056.40,199.40) scale(0.95,1)" font-size="34.5" letter-spacing="1.522" stroke-width="0.55">(OEM vs</text>
<text transform="translate(1000.06,239.10) scale(0.95,1)" font-size="34.5" letter-spacing="0.581" stroke-width="0.55">AFTERMARKET)</text>
<text transform="translate(614.39,569.80) scale(0.88,1)" font-size="44" font-weight="700" letter-spacing="3.162" stroke-width="0">REPLACEMENT</text>
<text transform="translate(713.68,619.60) scale(0.88,1)" font-size="44" font-weight="700" letter-spacing="3.728" stroke-width="0">COST</text>
<text transform="translate(705.80,840.80) scale(0.95,1)" font-size="38" letter-spacing="1.342" stroke-width="0.3">LABOR</text>
<text transform="translate(723.68,886.90) scale(0.95,1)" font-size="38" letter-spacing="1.389" stroke-width="0.3">TIME</text>
<text transform="translate(669.95,187.60) scale(1.0,1)" font-size="38.5" letter-spacing="0.024" stroke-width="0.3">depends on</text>
<text transform="translate(670.02,411.50) scale(1.0,1)" font-size="38.5" letter-spacing="0.060" stroke-width="0.3">depends on</text>
</g>
</svg>
</body></html>
